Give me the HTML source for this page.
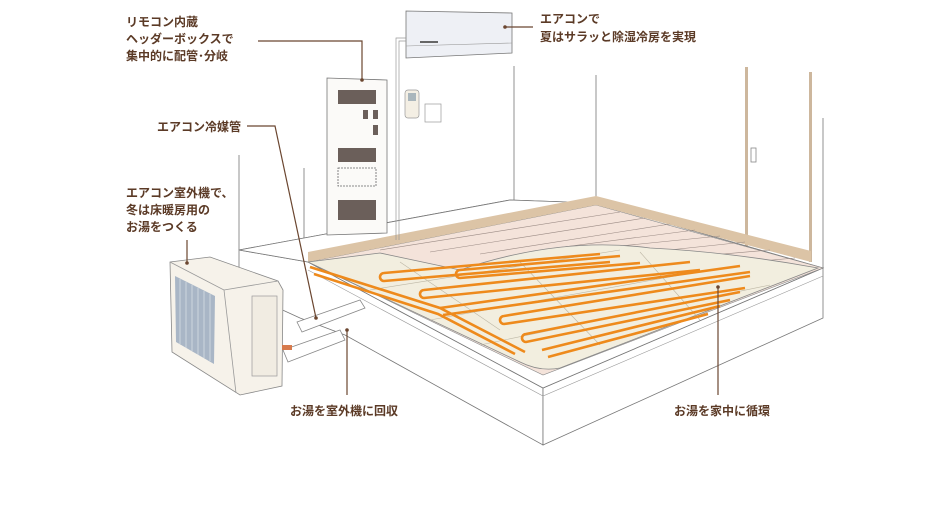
<!DOCTYPE html>
<html><head><meta charset="utf-8"><style>
html,body{margin:0;padding:0;background:#fff;}
svg{display:block}
text{font-family:"Liberation Sans","Noto Sans CJK JP",sans-serif;font-weight:bold;font-size:12px;fill:#5b3a26}
</style></head><body>
<svg width="949" height="511" viewBox="0 0 949 511" xmlns="http://www.w3.org/2000/svg">
<g fill="none" stroke="#777" stroke-width="0.8">
<line x1="239" y1="155" x2="239" y2="250"/>
<line x1="304" y1="168" x2="304" y2="245"/>
<line x1="514" y1="66" x2="514" y2="200"/>
<line x1="596" y1="75" x2="596" y2="203"/>
<line x1="823" y1="118" x2="823" y2="268"/>
<polyline points="239,250 510,200 596,203"/>
</g>
<rect x="745" y="67" width="3" height="180" fill="#cdb79d"/>
<rect x="809" y="72" width="3" height="190" fill="#cdb79d"/>
<rect x="751" y="148" width="5" height="14" fill="none" stroke="#888" stroke-width="0.8"/>
<!-- platform -->
<polygon points="239,250 308,262 543,388 543,445 345,335 300,318 239,290" fill="#fff" stroke="#777" stroke-width="0.8"/>
<polygon points="543,388 823,268 823,318 543,445" fill="#fff" stroke="#777" stroke-width="0.8"/>
<polygon points="239,250 510,200 596,203 823,268 543,388 308,262" fill="#fff" stroke="#777" stroke-width="0.8"/>
<polyline points="308,270 543,396 823,276" fill="none" stroke="#999" stroke-width="0.6"/>
<!-- wood floor -->
<polygon points="308,262 596,205 823,268 543,375" fill="#f4e3da" stroke="#888" stroke-width="0.6"/>
<polygon points="308,262 596,205 811,262 811,251 596,196 308,252" fill="#dcc4a6"/>
<g stroke="#9a8a84" stroke-width="0.6">
<line x1="380" y1="250" x2="620" y2="212"/><line x1="430" y1="252" x2="645" y2="218"/>
<line x1="480" y1="254" x2="670" y2="224"/><line x1="540" y1="250" x2="695" y2="230"/>
<line x1="600" y1="248" x2="720" y2="236"/><line x1="650" y1="252" x2="745" y2="242"/>
<line x1="700" y1="256" x2="770" y2="250"/><line x1="750" y1="262" x2="795" y2="258"/>
</g>
<!-- cream panel -->
<path d="M308,262 L380,253 L460,270 Q560,236 650,248 Q730,252 818,268 L560,368 Q540,372 520,362 Z" fill="#f2eedf" stroke="#888" stroke-width="0.8"/>
<g stroke="#bdb7a5" stroke-width="0.6" fill="none">
<line x1="370" y1="290" x2="620" y2="250"/><line x1="430" y1="320" x2="720" y2="268"/>
<line x1="480" y1="345" x2="770" y2="285"/><line x1="400" y1="262" x2="500" y2="330"/>
<line x1="520" y1="262" x2="600" y2="345"/><line x1="640" y1="252" x2="700" y2="320"/>
</g>
<!-- orange pipes -->
<g fill="none" stroke="#ee8a1c" stroke-width="2.6">
<polyline points="310,267 440,308 525,352"/>
<polyline points="314,274 438,314 515,354"/>
<path d="M600,254 L384,273 a4,4 0 0 0 0,8 L610,262"/>
<path d="M620,256 L460,270 a4,4 0 0 0 0,8 L640,263"/>
<path d="M690,262 L424,290 a4,4 0 0 0 0,8 L700,270"/>
<path d="M440,308 L740,266 M443,315 L750,272"/>
<path d="M750,276 L504,316 a4,4 0 0 0 0,8 L745,288"/>
<path d="M740,292 L526,334 a4,4 0 0 0 0,8 L730,300"/>
<path d="M542,350 L720,306 M548,357 L708,314"/>
</g>
<!-- trays from outdoor unit -->
<g fill="#fff" stroke="#888" stroke-width="0.8">
<polygon points="297,322 360,300 365,308 302,332"/>
<polygon points="283,350 340,330 345,340 288,362"/>
</g>
<!-- outdoor unit -->
<polygon points="170,262 210,257 278,281 283,290 282,386 240,395 172,352" fill="#f6f2ea" stroke="#888" stroke-width="0.8"/>
<polyline points="170,262 224,290 236,393" fill="none" stroke="#999" stroke-width="0.8"/>
<line x1="224" y1="290" x2="278" y2="281" stroke="#999" stroke-width="0.8"/>
<polygon points="175,276 215,296 214,364 176,342" fill="#a9b6c6"/>
<g stroke="#dde3ea" stroke-width="0.7">
<line x1="180" y1="279" x2="180" y2="344"/><line x1="186" y1="282" x2="186" y2="348"/>
<line x1="192" y1="285" x2="192" y2="351"/><line x1="198" y1="288" x2="198" y2="355"/>
<line x1="204" y1="291" x2="204" y2="358"/><line x1="210" y1="294" x2="210" y2="361"/>
</g>
<rect x="252" y="296" width="25" height="80" fill="#f1ece2" stroke="#999" stroke-width="0.7"/>
<rect x="282" y="345" width="10" height="5" fill="#d77a4c"/>
<!-- header box -->
<polygon points="327,78 387,80 387,233 327,235" fill="#fbfaf8" stroke="#777" stroke-width="0.8"/>
<rect x="338" y="90" width="38" height="14" fill="#6b5f5a"/>
<rect x="363" y="110" width="5" height="9" fill="#6b5f5a"/><rect x="373" y="110" width="5" height="9" fill="#6b5f5a"/>
<rect x="373" y="125" width="5" height="10" fill="#6b5f5a"/>
<rect x="338" y="148" width="38" height="14" fill="#6b5f5a"/>
<rect x="338" y="168" width="38" height="18" fill="none" stroke="#666" stroke-width="0.8" stroke-dasharray="2,1"/>
<rect x="338" y="200" width="38" height="20" fill="#6b5f5a"/>
<!-- indoor AC -->
<polygon points="406,11 512,13 512,53 406,58" fill="#eef0f5" stroke="#777" stroke-width="0.8"/>
<line x1="406" y1="46" x2="512" y2="43" stroke="#999" stroke-width="0.6"/>
<rect x="420" y="41" width="18" height="2" fill="#666"/>
<polyline points="406,38 396,38 396,240" fill="none" stroke="#999" stroke-width="0.7"/>
<polyline points="406,41 399,41 399,240" fill="none" stroke="#999" stroke-width="0.7"/>
<rect x="405" y="90" width="14" height="28" rx="3" fill="#f4efe4" stroke="#999" stroke-width="0.7"/>
<rect x="408" y="93" width="8" height="8" fill="#aab6bc"/>
<rect x="425" y="104" width="16" height="18" fill="#fff" stroke="#999" stroke-width="0.7"/>
<!-- leader lines -->
<g stroke="#6b4630" stroke-width="1.2" fill="none">
<polyline points="258,41 362,41 362,80"/>
<polyline points="247,126 275,126 316,318"/>
<line x1="187" y1="240" x2="187" y2="263"/>
<line x1="505" y1="27" x2="533" y2="27"/>
<line x1="347" y1="330" x2="347" y2="395"/>
<line x1="718" y1="287" x2="718" y2="395"/>
</g>
<g fill="#6b4630"><circle cx="362" cy="80" r="1.8"/><circle cx="316" cy="318" r="1.8"/><circle cx="187" cy="263" r="1.8"/><circle cx="505" cy="27" r="1.8"/><circle cx="347" cy="330" r="1.8"/><circle cx="718" cy="287" r="1.8"/></g>
<text x="126" y="26">リモコン内蔵</text>
<text x="126" y="43">ヘッダーボックスで</text>
<text x="126" y="60">集中的に配管･分岐</text>
<text x="157" y="131">エアコン冷媒管</text>
<text x="126" y="197">エアコン室外機で、</text>
<text x="126" y="214">冬は床暖房用の</text>
<text x="126" y="231">お湯をつくる</text>
<text x="540" y="23">エアコンで</text>
<text x="540" y="41">夏はサラッと除湿冷房を実現</text>
<text x="290" y="415">お湯を室外機に回収</text>
<text x="674" y="415">お湯を家中に循環</text>
</svg>
</body></html>
